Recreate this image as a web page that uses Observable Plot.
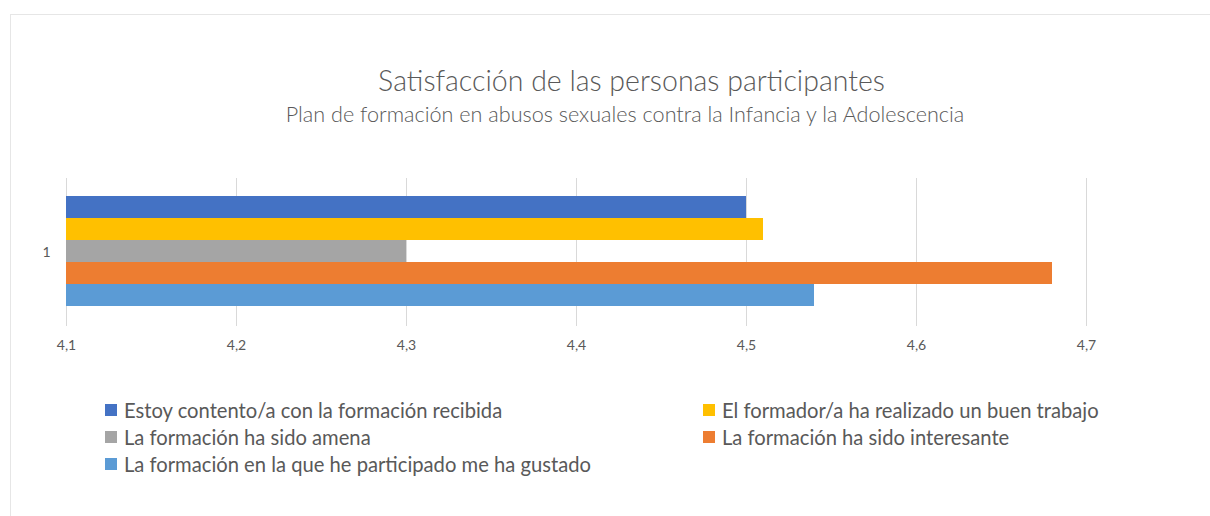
<!DOCTYPE html>
<html>
<head>
<meta charset="utf-8">
<script src="https://cdn.jsdelivr.net/npm/d3@7"></script>
<script src="https://cdn.jsdelivr.net/npm/@observablehq/plot@0.6"></script>
<style>
  html, body { margin: 0; padding: 0; background: #fff; }
  body { width: 1210px; height: 516px; position: relative; overflow: hidden; font-family: Lato, "Noto Sans", sans-serif; color: #595959; }
  #frame { position: absolute; left: 10px; top: 14px; width: 1220px; height: 520px; border: 1px solid #e6e6e6; box-sizing: border-box; }
  #title { position: absolute; left: 0; width: 1263px; top: 63px; line-height: 34px; text-align: center; font-size: 28.5px; font-weight: 300; }
  #subtitle { position: absolute; left: 0; width: 1250px; top: 101px; line-height: 26px; text-align: center; font-size: 21.6px; font-weight: 300; }
  #chart { position: absolute; left: 0; top: 170px; }
  .leg { position: absolute; font-size: 20.2px; white-space: nowrap; display: flex; align-items: center; }
  .sw { width: 12px; height: 12px; margin-right: 7px; display: inline-block; }
</style>
</head>
<body>
<div id="frame"></div>
<div id="title">Satisfacción de las personas participantes</div>
<div id="subtitle">Plan de formación en abusos sexuales contra la Infancia y la Adolescencia</div>
<div id="chart"></div>
<div id="legend"></div>
<script>
const categories = ["1"];
const seriesNames = [
  "Estoy contento/a con la formación recibida",
  "El formador/a ha realizado un buen trabajo",
  "La formación ha sido amena",
  "La formación ha sido interesante",
  "La formación en la que he participado me ha gustado"
];
const seriesValues = [4.50, 4.51, 4.30, 4.68, 4.54];
const seriesColors = ["#4472C4", "#FFC000", "#A5A5A5", "#ED7D31", "#5B9BD5"];
const xTicks = [4.1, 4.2, 4.3, 4.4, 4.5, 4.6, 4.7];

const data = seriesNames.map((name, i) => ({category: categories[0], name, value: seriesValues[i]}));
const xMin = xTicks[0];

const plot = Plot.plot({
  width: 1210,
  height: 200,
  marginTop: 8,
  marginBottom: 44,
  marginLeft: 66,
  marginRight: 124,
  style: {fontFamily: "Lato, 'Noto Sans', sans-serif", fontSize: "14px", color: "#595959", background: "transparent"},
  x: {domain: [xTicks[0], xTicks[xTicks.length - 1]], ticks: xTicks, tickSize: 0, tickPadding: 14,
      tickFormat: d => d3.format(".1f")(d).replace(".", ","), label: null},
  y: {domain: seriesNames, range: [26, 136], padding: 0, axis: null},
  color: {domain: seriesNames, range: seriesColors},
  marks: [
    Plot.gridX(xTicks, {stroke: "#d9d9d9", strokeOpacity: 1}),
    Plot.barX(data, {y: "name", x1: () => xMin, x2: "value", fill: "name", inset: 0}),
    Plot.text(categories, {frameAnchor: "left", dx: -24, text: d => d, fill: "#595959", fontSize: 14})
  ]
});
document.getElementById("chart").appendChild(plot);

// Legend (Excel order: two columns, row-major)
const legend = document.getElementById("legend");
const colX = [105, 703];
const rowY = [410, 437, 464];
seriesNames.forEach((name, i) => {
  const el = document.createElement("div");
  el.className = "leg";
  el.style.left = colX[i % 2] + "px";
  el.style.top = (rowY[Math.floor(i / 2)] - 12) + "px";
  el.style.height = "24px";
  el.innerHTML = `<span class="sw" style="background:${seriesColors[i]}"></span><span>${name}</span>`;
  legend.appendChild(el);
});
</script>
</body>
</html>
